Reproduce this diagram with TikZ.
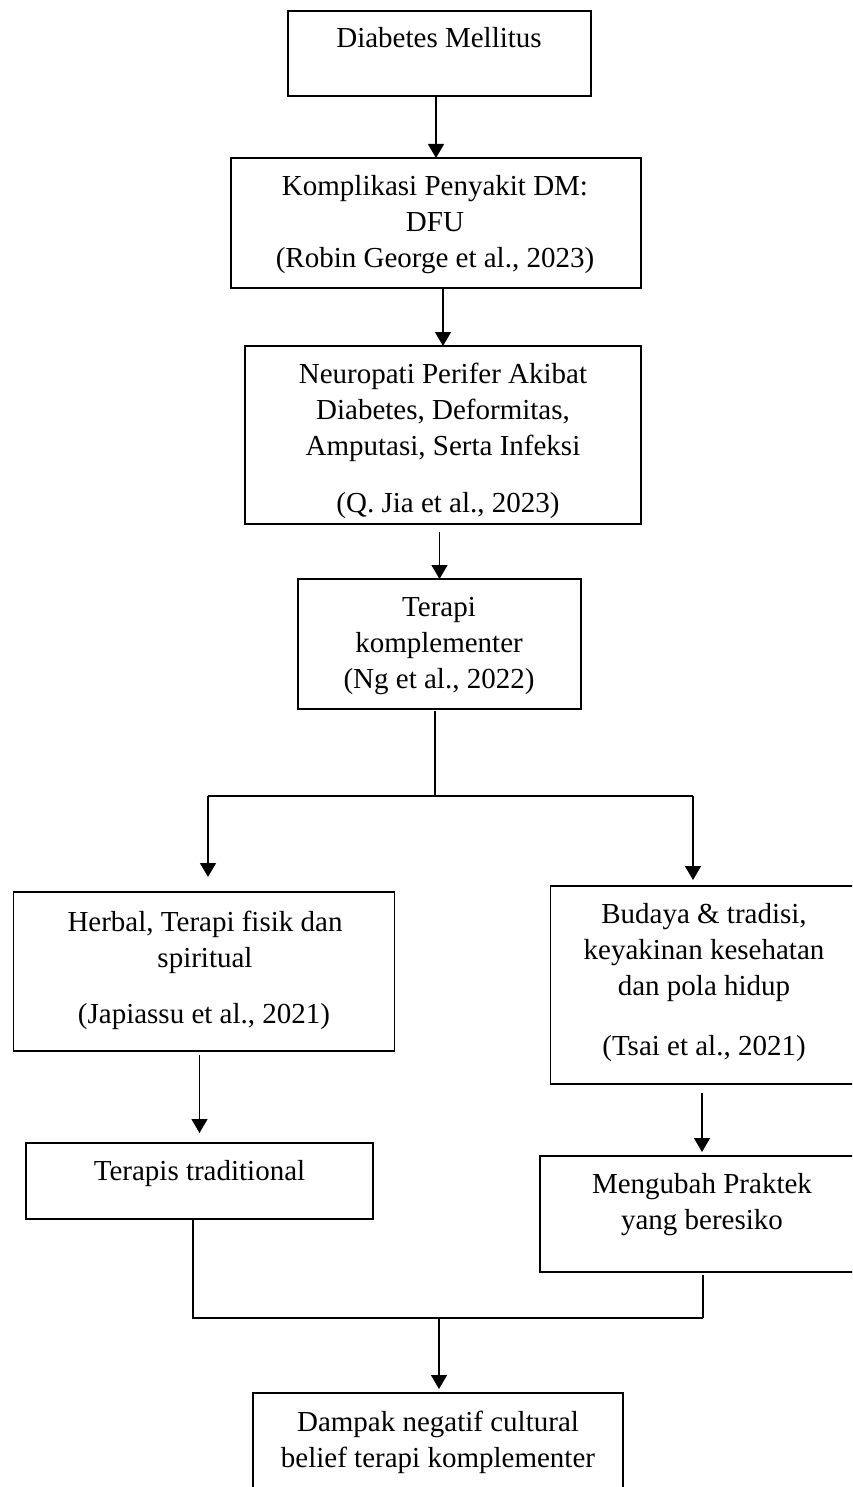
\documentclass[tikz,border=0pt]{standalone}
\usepackage{fontspec}
\setmainfont{Liberation Serif}
\usetikzlibrary{arrows.meta,calc}
\tikzset{
  box/.style  = {rectangle, draw, line width=1.5pt, inner sep=0pt, outer sep=0pt},
  txt/.style  = {align=center, inner sep=0pt, font=\fontsize{29}{36}\selectfont},
  link/.style = {line width=1.4pt},
  arr/.style  = {link, -{Triangle[length=14pt, width=16pt]}},
}
\begin{document}
\begin{tikzpicture}[x=1pt, y=-1pt]

  \path[use as bounding box, fill=white] (0,0) rectangle (852,1487);
  \clip (0,0) rectangle (852,1487);

  \node[box, minimum width=303pt, minimum height=85pt]  (dm)     at (439.5,53.5)   {};
  \node[box, minimum width=410pt, minimum height=130pt] (komp)   at (436,223)      {};
  \node[box, minimum width=396pt, minimum height=178pt] (neuro)  at (443,435)      {};
  \node[box, minimum width=283pt, minimum height=130pt] (terapi) at (439.5,644)    {};
  \node[box, minimum width=381pt, minimum height=159pt] (herbal) at (204,971.5)    {};
  \node[box, minimum width=308pt, minimum height=198pt] (budaya) at (704.5,985)    {};
  \node[box, minimum width=347pt, minimum height=76pt]  (trad)   at (199.5,1181)   {};
  \node[box, minimum width=324pt, minimum height=116pt] (ubah)   at (702,1214)     {};
  \node[box, minimum width=370pt, minimum height=130pt] (dampak) at (438,1458)     {};

  \node[txt, anchor=base] (dmtxt)     at (439,48)    {Diabetes Mellitus};
  \node[txt]              (komptxt)   at (435,224.5) {Komplikasi Penyakit DM:\\ DFU\\ (Robin George et al., 2023)};
  \node[txt]              (neurotxt)  at (443,412)   {Neuropati Perifer Akibat\\ Diabetes, Deformitas,\\ Amputasi, Serta Infeksi};
  \node[txt, anchor=base] (neurocite) at (448,512)   {(Q. Jia et al., 2023)};
  \node[txt]              (terapitxt) at (439,646)   {Terapi\\ komplementer\\ (Ng et al., 2022)};
  \node[txt]              (herbaltxt) at (205,942)   {Herbal, Terapi fisik dan\\ spiritual};
  \node[txt, anchor=base] (herbalcite) at (204,1023) {(Japiassu et al., 2021)};
  \node[txt]              (budayatxt) at (704,953)   {Budaya \& tradisi,\\ keyakinan kesehatan\\ dan pola hidup};
  \node[txt, anchor=base] (budayacite) at (704,1055) {(Tsai et al., 2021)};
  \node[txt, anchor=base] (tradtxt)   at (199.5,1180) {Terapis traditional};
  \node[txt]              (ubahtxt)   at (702,1205)  {Mengubah Praktek\\ yang beresiko};
  \node[txt]              (dampaktxt) at (438,1442)  {Dampak negatif cultural\\ belief terapi komplementer};

  \coordinate (split)  at (435,796);
  \coordinate (splitL) at (208,796);
  \coordinate (splitR) at (693,796);
  \coordinate (joinL)  at (193,1318);
  \coordinate (joinR)  at (703,1318);
  \coordinate (join)   at (439,1318);

  \draw[arr] (dm.south -| komp.north) -- (komp.north);
  \draw[arr] (komp.south -| neuro.north) -- (neuro.north);
  \draw[arr, shorten <=8pt] (neuro.south -| terapi.north) -- (terapi.north);

  \draw[link, shorten <=2pt] (terapi.south -| split) -- (split);
  \draw[link] (splitL) -- (splitR);
  \draw[arr, shorten >=15pt] (splitL) -- (splitL |- herbal.north);
  \draw[arr, shorten >=6pt]  (splitR) -- (splitR |- budaya.north);

  \draw[arr, shorten <=4pt, shorten >=10pt] (herbal.south -| trad.north) -- (trad.north);
  \draw[arr, shorten <=9pt, shorten >=4pt]  (budaya.south -| ubah.north) -- (ubah.north);

  \draw[link] (trad.south -| joinL) -- (joinL) -- (joinR);
  \draw[link, shorten <=3pt] (ubah.south -| joinR) -- (joinR);
  \draw[arr, shorten >=4pt] (join) -- (dampak.north -| join);

\end{tikzpicture}
\end{document}
